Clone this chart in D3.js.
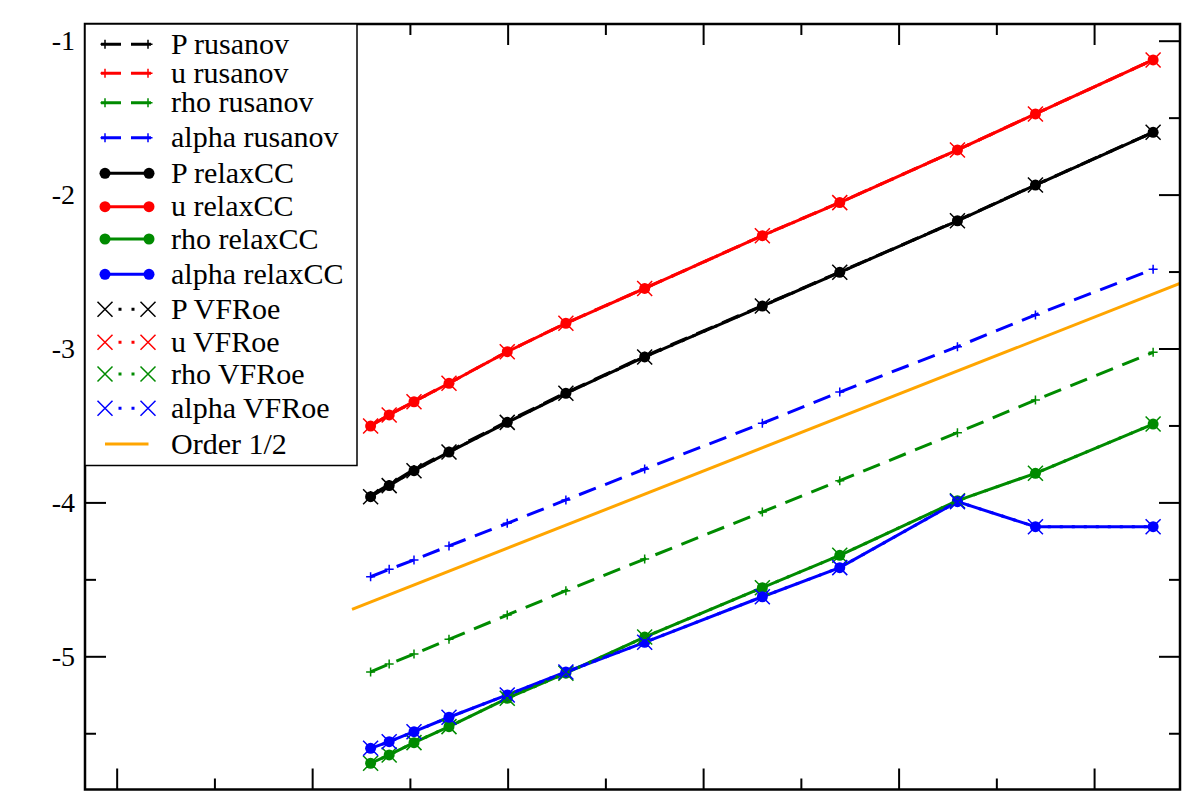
<!DOCTYPE html>
<html>
<head>
<meta charset="utf-8">
<script src="https://cdn.jsdelivr.net/npm/d3@7"></script>
<style>
  body { margin: 0; background: #fff; }
  svg { display: block; }
  text { font-family: "Liberation Serif", "Times New Roman", Times, serif; }
</style>
</head>
<body>
<svg id="chart" width="1201" height="800"></svg>
<script>
// Convergence data: x = log10(dx), y = log10(error)
var xVals = [-5.701, -5.606, -5.479, -5.300, -5.002, -4.702, -4.299, -3.697, -3.301, -2.699, -2.300, -1.698];

var pRusanov = [-3.955, -3.884, -3.786, -3.667, -3.474, -3.287, -3.050, -2.721, -2.503, -2.168, -1.937, -1.594];
var uRusanov = [-3.502, -3.430, -3.344, -3.225, -3.020, -2.835, -2.609, -2.266, -2.051, -1.709, -1.475, -1.124];
var rhoRusanov = [-5.102, -5.050, -4.985, -4.890, -4.732, -4.574, -4.368, -4.062, -3.859, -3.547, -3.335, -3.025];
var alphaRusanov = [-4.483, -4.435, -4.374, -4.283, -4.136, -3.984, -3.783, -3.486, -3.283, -2.988, -2.782, -2.485];

var pRelax = [-3.963, -3.891, -3.794, -3.673, -3.480, -3.291, -3.055, -2.724, -2.505, -2.170, -1.938, -1.595];
var uRelax = [-3.504, -3.432, -3.346, -3.226, -3.021, -2.836, -2.610, -2.267, -2.052, -1.710, -1.476, -1.125];
var rhoRelax = [-5.695, -5.641, -5.561, -5.457, -5.273, -5.110, -4.875, -4.554, -4.344, -3.989, -3.811, -3.491];
var alphaRelax = [-5.598, -5.555, -5.490, -5.396, -5.251, -5.102, -4.909, -4.613, -4.424, -3.995, -4.158, -4.158];

var pVFRoe = [-3.963, -3.891, -3.794, -3.673, -3.480, -3.291, -3.055, -2.724, -2.505, -2.170, -1.938, -1.595];
var uVFRoe = [-3.504, -3.432, -3.346, -3.226, -3.021, -2.836, -2.610, -2.267, -2.052, -1.710, -1.476, -1.125];
var rhoVFRoe = [-5.695, -5.641, -5.561, -5.457, -5.273, -5.110, -4.875, -4.554, -4.344, -3.989, -3.811, -3.491];
var alphaVFRoe = [-5.598, -5.555, -5.490, -5.396, -5.251, -5.102, -4.909, -4.613, -4.424, -3.995, -4.158, -4.158];

var orderX = [-5.796, -1.5];
var orderY = [-4.695, -2.547];

var xDomain = [-7.162, -1.5605];
var yDomain = [-5.8655, -0.8915];
var xMajor = [-7, -6, -5, -4, -3, -2];
var xMinor = [-6.5, -5.5, -4.5, -3.5, -2.5];
var yMajor = [-1, -2, -3, -4, -5];
var yMinor = [-1.5, -2.5, -3.5, -4.5, -5.5];

var colors = { P: "#000000", u: "#ff0000", rho: "#008b00", alpha: "#0000ff", order: "#ffa500" };

// series list in drawing order (same as legend order)
var series = [
  { label: "P rusanov", values: pRusanov, color: colors.P, style: "dash", mark: "plus" },
  { label: "u rusanov", values: uRusanov, color: colors.u, style: "dash", mark: "plus" },
  { label: "rho rusanov", values: rhoRusanov, color: colors.rho, style: "dash", mark: "plus" },
  { label: "alpha rusanov", values: alphaRusanov, color: colors.alpha, style: "dash", mark: "plus" },
  { label: "P relaxCC", values: pRelax, color: colors.P, style: "solid", mark: "circle" },
  { label: "u relaxCC", values: uRelax, color: colors.u, style: "solid", mark: "circle" },
  { label: "rho relaxCC", values: rhoRelax, color: colors.rho, style: "solid", mark: "circle" },
  { label: "alpha relaxCC", values: alphaRelax, color: colors.alpha, style: "solid", mark: "circle" },
  { label: "P VFRoe", values: pVFRoe, color: colors.P, style: "dot", mark: "cross" },
  { label: "u VFRoe", values: uVFRoe, color: colors.u, style: "dot", mark: "cross" },
  { label: "rho VFRoe", values: rhoVFRoe, color: colors.rho, style: "dot", mark: "cross" },
  { label: "alpha VFRoe", values: alphaVFRoe, color: colors.alpha, style: "dot", mark: "cross" }
];

var dashes = { dash: "18,10", solid: null, dot: "3,9" };

// plot frame in pixels (avoid the name "top", it is window.top)
var plotL = 85, plotR = 1180, plotT = 24, plotB = 789.5;

var svg = d3.select("#chart");

var x = d3.scaleLinear().domain(xDomain).range([plotL, plotR]);
var y = d3.scaleLinear().domain(yDomain).range([plotB, plotT]);

svg.append("defs").append("clipPath").attr("id", "plotClip")
  .append("rect").attr("x", plotL).attr("y", plotT)
  .attr("width", plotR - plotL).attr("height", plotB - plotT);

// axes with inward ticks on all four sides
function tickAxis(axis, pos, vals, size, labels) {
  var a = axis.tickValues(vals).tickSizeInner(-size).tickSizeOuter(0).tickPadding(10);
  if (!labels) a.tickFormat("");
  var g = svg.append("g").attr("transform", pos).call(a);
  g.select(".domain").remove();
  g.selectAll(".tick line").attr("stroke", "#000").attr("stroke-width", 2);
  g.selectAll(".tick text").attr("fill", "#000").style("font-size", "28px")
    .attr("font-family", "'Liberation Serif', 'Times New Roman', serif");
  return g;
}

tickAxis(d3.axisBottom(x), "translate(0," + plotB + ")", xMajor, 21, false);
tickAxis(d3.axisBottom(x), "translate(0," + plotB + ")", xMinor, 11, false);
tickAxis(d3.axisTop(x), "translate(0," + plotT + ")", xMajor, 21, false);
tickAxis(d3.axisTop(x), "translate(0," + plotT + ")", xMinor, 11, false);
// plain hyphen for the minus sign, like the original
tickAxis(d3.axisLeft(y).tickFormat(function(d) { return String(d); }), "translate(" + plotL + ",0)", yMajor, 21, true);
tickAxis(d3.axisLeft(y), "translate(" + plotL + ",0)", yMinor, 11, false);
tickAxis(d3.axisRight(y), "translate(" + plotR + ",0)", yMajor, 21, false);
tickAxis(d3.axisRight(y), "translate(" + plotR + ",0)", yMinor, 11, false);

// markers
function drawMark(g, kind, cx, cy, color) {
  if (kind == "circle") {
    g.append("circle").attr("cx", cx).attr("cy", cy).attr("r", 5.5).attr("fill", color);
  } else if (kind == "plus") {
    g.append("path").attr("d", "M" + (cx - 4.5) + "," + cy + "H" + (cx + 4.5) + "M" + cx + "," + (cy - 4.5) + "V" + (cy + 4.5))
      .attr("stroke", color).attr("stroke-width", 1.5).attr("fill", "none");
  } else if (kind == "cross") {
    var s = 7.5;
    g.append("path").attr("d", "M" + (cx - s) + "," + (cy - s) + "L" + (cx + s) + "," + (cy + s) + "M" + (cx - s) + "," + (cy + s) + "L" + (cx + s) + "," + (cy - s))
      .attr("stroke", color).attr("stroke-width", 1.5).attr("fill", "none");
  }
}

var plot = svg.append("g").attr("clip-path", "url(#plotClip)");

var line = d3.line().x(function(d) { return x(d[0]); }).y(function(d) { return y(d[1]); });

for (var i = 0; i < series.length; i++) {
  var s = series[i];
  var pts = xVals.map(function(xv, k) { return [xv, s.values[k]]; });
  var g = plot.append("g");
  g.append("path").datum(pts).attr("d", line)
    .attr("fill", "none").attr("stroke", s.color).attr("stroke-width", 3)
    .attr("stroke-dasharray", dashes[s.style]);
  for (var k = 0; k < pts.length; k++) {
    drawMark(g, s.mark, x(pts[k][0]), y(pts[k][1]), s.color);
  }
}

// Order 1/2 reference line
plot.append("path").datum(orderX.map(function(xv, k) { return [xv, orderY[k]]; }))
  .attr("d", line).attr("fill", "none").attr("stroke", colors.order).attr("stroke-width", 3);

// frame
svg.append("rect").attr("x", plotL).attr("y", plotT).attr("width", plotR - plotL).attr("height", plotB - plotT)
  .attr("fill", "none").attr("stroke", "#000").attr("stroke-width", 2.5);

// legend
var legend = svg.append("g");
legend.append("rect").attr("x", plotL).attr("y", plotT).attr("width", 272).attr("height", 441.5)
  .attr("fill", "#fff").attr("stroke", "#000").attr("stroke-width", 1.5);

var legendItems = series.concat([{ label: "Order 1/2", color: colors.order, style: "order", mark: null }]);
// row positions as read off the original legend (spacing is not even)
var legendRows = [44.3, 73.3, 102.7, 137.7, 173.3, 206.7, 239, 274.3, 309.3, 342.3, 374, 408.3, 444];

for (var j = 0; j < legendItems.length; j++) {
  var it = legendItems[j];
  var ly = legendRows[j];
  if (it.style == "dash") {
    legend.append("line").attr("x1", 101).attr("x2", 153).attr("y1", ly).attr("y2", ly)
      .attr("stroke", it.color).attr("stroke-width", 3).attr("stroke-dasharray", "20,10");
    drawMark(legend, "plus", 105, ly, it.color);
    drawMark(legend, "plus", 148, ly, it.color);
  } else if (it.style == "solid") {
    legend.append("line").attr("x1", 105).attr("x2", 149).attr("y1", ly).attr("y2", ly)
      .attr("stroke", it.color).attr("stroke-width", 3);
    drawMark(legend, "circle", 105, ly, it.color);
    drawMark(legend, "circle", 149, ly, it.color);
  } else if (it.style == "dot") {
    legend.append("line").attr("x1", 118.5).attr("x2", 135).attr("y1", ly).attr("y2", ly)
      .attr("stroke", it.color).attr("stroke-width", 3).attr("stroke-dasharray", "3,10");
    drawMark(legend, "cross", 105, ly, it.color);
    drawMark(legend, "cross", 148, ly, it.color);
  } else {
    legend.append("line").attr("x1", 105).attr("x2", 148.5).attr("y1", ly).attr("y2", ly)
      .attr("stroke", it.color).attr("stroke-width", 3);
  }
  legend.append("text").attr("x", 171).attr("y", ly).attr("dy", "0.32em")
    .style("font-size", "30px").attr("fill", "#000").text(it.label);
}
</script>
</body>
</html>
